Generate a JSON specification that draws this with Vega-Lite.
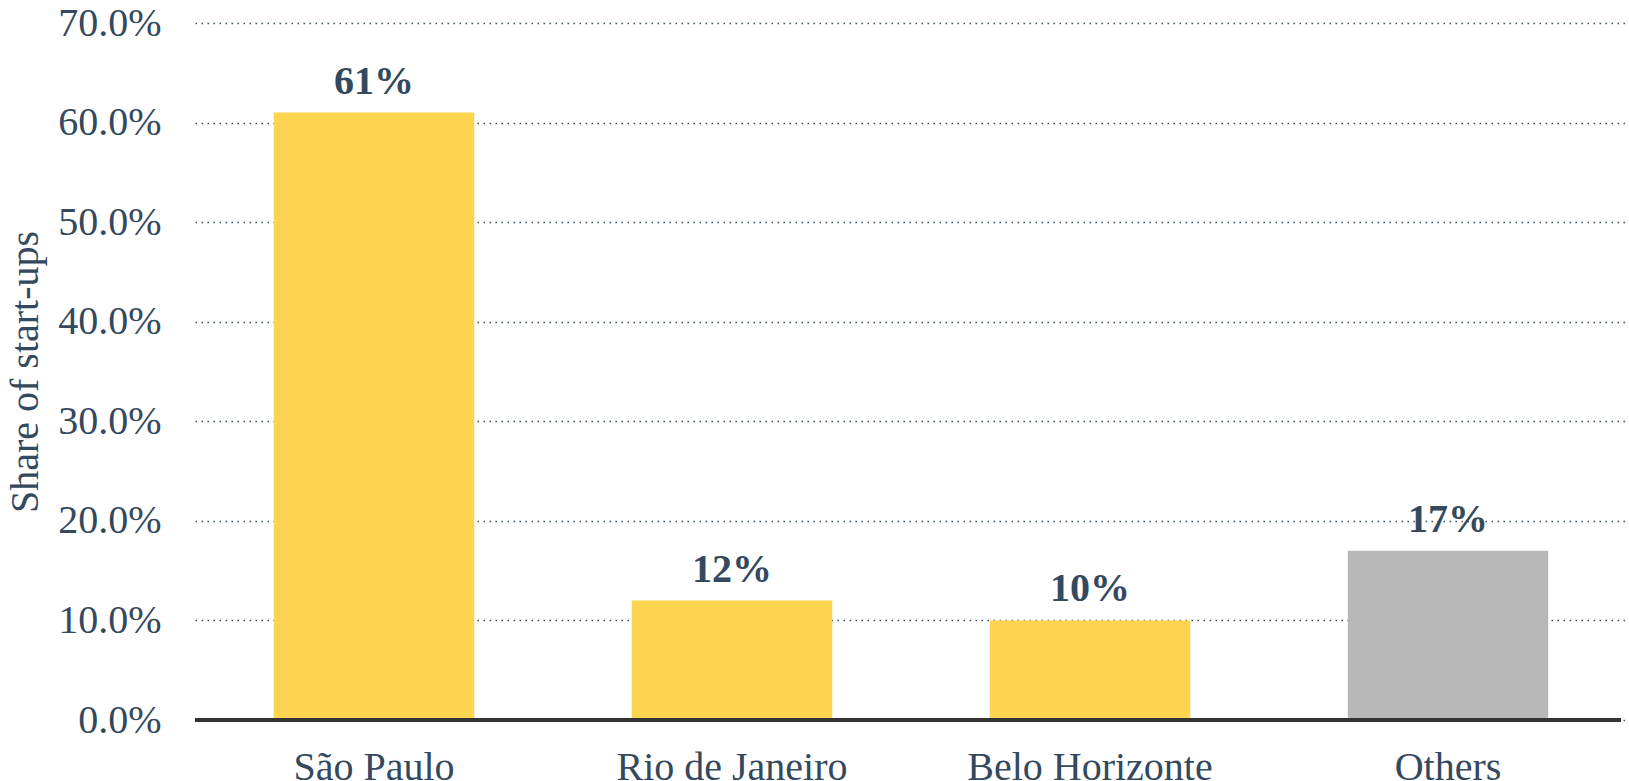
{
  "$schema": "https://vega.github.io/schema/vega-lite/v6.json",
  "autosize": {"type": "none"},
  "width": 1432,
  "height": 697,
  "padding": {"left": 195, "top": 23, "right": 2, "bottom": 61},
  "background": "#ffffff",
  "config": {
    "view": {"stroke": null},
    "font": "Liberation Serif"
  },
  "data": {
    "values": [
      {"city": "São Paulo", "share": 0.61, "group": "city"},
      {"city": "Rio de Janeiro", "share": 0.12, "group": "city"},
      {"city": "Belo Horizonte", "share": 0.10, "group": "city"},
      {"city": "Others", "share": 0.17, "group": "other"}
    ]
  },
  "encoding": {
    "x": {
      "field": "city",
      "type": "nominal",
      "sort": null,
      "scale": {"paddingInner": 0.44, "paddingOuter": 0.22},
      "axis": {
        "title": null,
        "labelAngle": 0,
        "labelFont": "Liberation Serif",
        "labelFontSize": 40,
        "labelColor": "#34495E",
        "labelPadding": 27,
        "labelLimit": 0,
        "ticks": false,
        "domain": false,
        "grid": false
      }
    },
    "y": {
      "field": "share",
      "type": "quantitative",
      "scale": {"domain": [0, 0.7], "nice": false},
      "axis": {
        "title": "Share of start-ups",
        "titleFont": "Liberation Serif",
        "titleFontSize": 40,
        "titleFontWeight": "normal",
        "titleColor": "#34495E",
        "titlePadding": 12,
        "format": ".1%",
        "values": [0, 0.1, 0.2, 0.3, 0.4, 0.5, 0.6, 0.7],
        "labelFont": "Liberation Serif",
        "labelFontSize": 40,
        "labelColor": "#34495E",
        "labelPadding": 34,
        "ticks": false,
        "domain": false,
        "grid": true,
        "gridColor": "#3d4f60",
        "gridDash": [1.5, 4.5],
        "gridWidth": 1.5
      }
    }
  },
  "layer": [
    {
      "mark": {"type": "bar"},
      "encoding": {
        "color": {
          "field": "group",
          "type": "nominal",
          "scale": {"domain": ["city", "other"], "range": ["#FDD44F", "#B8B8B8"]},
          "legend": null
        }
      }
    },
    {
      "mark": {
        "type": "text",
        "baseline": "alphabetic",
        "dy": -19,
        "font": "Liberation Serif",
        "fontSize": 40,
        "fontWeight": "bold",
        "color": "#34495E"
      },
      "encoding": {
        "text": {"field": "share", "type": "quantitative", "format": ".0%"}
      }
    },
    {
      "mark": {"type": "rule", "color": "#333333", "strokeWidth": 4},
      "encoding": {
        "y": {"datum": 0},
        "x": {"value": 0},
        "x2": {"value": 1426}
      }
    }
  ]
}
